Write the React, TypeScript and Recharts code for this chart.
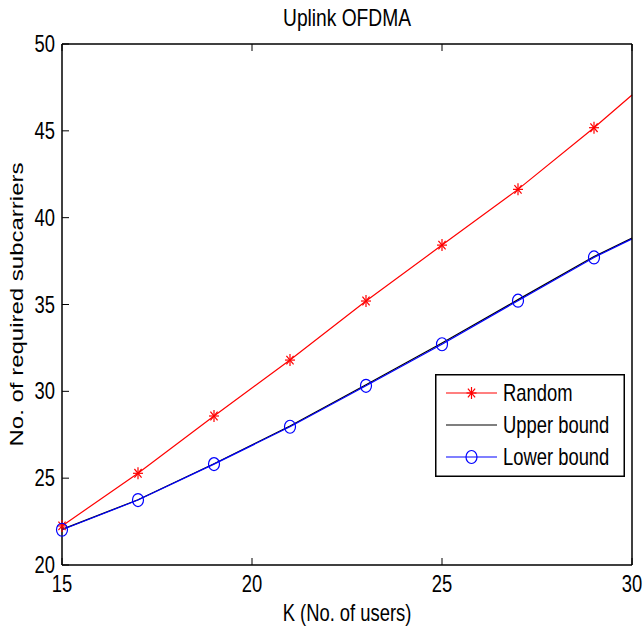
import React from 'react';
import { LineChart, Line, XAxis, YAxis, Legend } from 'recharts';

const kValues = [15, 17, 19, 21, 23, 25, 27, 29, 30];
const randomVals = [22.25, 25.28, 28.58, 31.8, 35.2, 38.42, 41.63, 45.18, 47.06];
const upperVals = [22.05, 23.76, 25.83, 28.0, 30.38, 32.78, 35.28, 37.76, 38.82];
const lowerVals = [22.03, 23.74, 25.81, 27.96, 30.32, 32.71, 35.22, 37.71, 38.78];
const markerK = [15, 17, 19, 21, 23, 25, 27, 29];
const xTicks = [15, 20, 25, 30];
const yTicks = [20, 25, 30, 35, 40, 45, 50];

const data = kValues.map((k, i) => ({ K: k, random: randomVals[i], upper: upperVals[i], lower: lowerVals[i] }));

const FONT = "'Liberation Sans', Arial, Helvetica, sans-serif";
const SX = 0.8;
const FS = 23;
const TL = 7;

const T = ({ x, y, anchor, size = FS, rotate = false, children }: any) => (
  <text
    transform={`translate(${x},${y}) scale(${SX},1)${rotate ? ' rotate(-90)' : ''}`}
    textAnchor={anchor}
    fontSize={size}
    fontFamily={FONT}
    fill="#000"
  >
    {children}
  </text>
);

const BottomTick = (p: any) => (
  <g>
    <line x1={p.x} y1={p.y} x2={p.x} y2={p.y - TL} stroke="#000" strokeWidth={1} />
    <T x={p.x} y={p.y + 27} anchor="middle">{p.payload.value}</T>
  </g>
);
const TopTick = (p: any) => (
  <g>
    <line x1={p.x} y1={p.y} x2={p.x} y2={p.y + TL} stroke="#000" strokeWidth={1} />
  </g>
);
const LeftTick = (p: any) => (
  <g>
    <line x1={p.x} y1={p.y} x2={p.x + TL} y2={p.y} stroke="#000" strokeWidth={1} />
    <T x={p.x - 7} y={p.y + 8} anchor="end">{p.payload.value}</T>
  </g>
);
const RightTick = (p: any) => (
  <g>
    <line x1={p.x} y1={p.y} x2={p.x - TL} y2={p.y} stroke="#000" strokeWidth={1} />
  </g>
);

const Star = ({ cx, cy, color }: any) => (
  <g stroke={color} strokeWidth={1.2}>
    <line x1={cx} y1={cy - 6} x2={cx} y2={cy + 6} />
    <line x1={cx - 5} y1={cy} x2={cx + 5} y2={cy} />
    <line x1={cx - 3.6} y1={cy - 4.3} x2={cx + 3.6} y2={cy + 4.3} />
    <line x1={cx - 3.6} y1={cy + 4.3} x2={cx + 3.6} y2={cy - 4.3} />
  </g>
);
const Circ = ({ cx, cy, color }: any) => (
  <ellipse cx={cx} cy={cy} rx={5.5} ry={6.5} fill="none" stroke={color} strokeWidth={1.2} />
);

const starDot = (p: any) =>
  markerK.includes(p.payload.K) ? <Star key={p.index} cx={p.cx} cy={p.cy} color="#ff0000" /> : <g key={p.index} />;
const circDot = (p: any) =>
  markerK.includes(p.payload.K) ? <Circ key={p.index} cx={p.cx} cy={p.cy} color="#0000ff" /> : <g key={p.index} />;

const legendItems = [
  { name: 'Random', color: '#ff0000', marker: 'star' },
  { name: 'Upper bound', color: '#000000', marker: 'none' },
  { name: 'Lower bound', color: '#0000ff', marker: 'circle' },
];

const LegendBox = () => (
  <svg width={190} height={103} style={{ display: 'block' }}>
    <rect x={0.75} y={0.75} width={188.5} height={101.5} fill="#fff" stroke="#000" strokeWidth={1.5} />
    {legendItems.map((it, i) => {
      const y = 19 + i * 32;
      return (
        <g key={it.name}>
          <line x1={11} y1={y} x2={62} y2={y} stroke={it.color} strokeWidth={1.2} />
          {it.marker === 'star' && <Star cx={36.5} cy={y} color={it.color} />}
          {it.marker === 'circle' && <Circ cx={36.5} cy={y} color={it.color} />}
          <T x={68} y={y + 8} anchor="start">{it.name}</T>
        </g>
      );
    })}
  </svg>
);

const axisLine = { stroke: '#000', strokeWidth: 1.5 };

export default function App() {
  return (
    <div style={{ position: 'absolute', left: 0, top: 0, width: 644, height: 632, background: '#fff' }}>
      <LineChart width={644} height={632} data={data} margin={{ top: 0, right: 0, bottom: 0, left: 0 }}>
        <XAxis
          dataKey="K"
          type="number"
          domain={[15, 30]}
          ticks={xTicks}
          height={67}
          tickSize={0}
          tickMargin={0}
          tickLine={false}
          axisLine={axisLine}
          tick={BottomTick}
          interval={0}
          label={{
            content: (props: any) => {
              const vb = props.viewBox;
              return <T x={vb.x + vb.width / 2} y={vb.y + 56} anchor="middle">K (No. of users)</T>;
            },
          }}
        />
        <XAxis
          xAxisId="top"
          orientation="top"
          dataKey="K"
          type="number"
          domain={[15, 30]}
          ticks={xTicks}
          height={44}
          tickSize={0}
          tickMargin={0}
          tickLine={false}
          axisLine={axisLine}
          tick={TopTick}
          interval={0}
          label={{
            content: (props: any) => {
              const vb = props.viewBox;
              return <T x={vb.x + vb.width / 2} y={vb.y + vb.height - 18} anchor="middle" size={24}>Uplink OFDMA</T>;
            },
          }}
        />
        <YAxis
          type="number"
          domain={[20, 50]}
          ticks={yTicks}
          width={62}
          tickSize={0}
          tickMargin={0}
          tickLine={false}
          axisLine={axisLine}
          tick={LeftTick}
          interval={0}
          label={{
            content: (props: any) => {
              const vb = props.viewBox;
              return (
                <T x={vb.x + vb.width - 39} y={vb.y + vb.height / 2} anchor="middle" size={24} rotate>
                  No. of required subcarriers
                </T>
              );
            },
          }}
        />
        <YAxis
          yAxisId="right"
          orientation="right"
          type="number"
          domain={[20, 50]}
          ticks={yTicks}
          width={12}
          tickSize={0}
          tickMargin={0}
          tickLine={false}
          axisLine={axisLine}
          tick={RightTick}
          interval={0}
        />
        <Legend
          layout="horizontal"
          verticalAlign="middle"
          align="center"
          wrapperStyle={{ left: 435, top: 374, width: 190, height: 103 }}
          content={() => <LegendBox />}
        />
        <Line type="linear" dataKey="random" stroke="#ff0000" strokeWidth={1.2} dot={starDot} activeDot={false} isAnimationActive={false} />
        <Line type="linear" dataKey="upper" stroke="#000000" strokeWidth={1.2} dot={false} activeDot={false} isAnimationActive={false} />
        <Line type="linear" dataKey="lower" stroke="#0000ff" strokeWidth={1.2} dot={circDot} activeDot={false} isAnimationActive={false} />
      </LineChart>
    </div>
  );
}
